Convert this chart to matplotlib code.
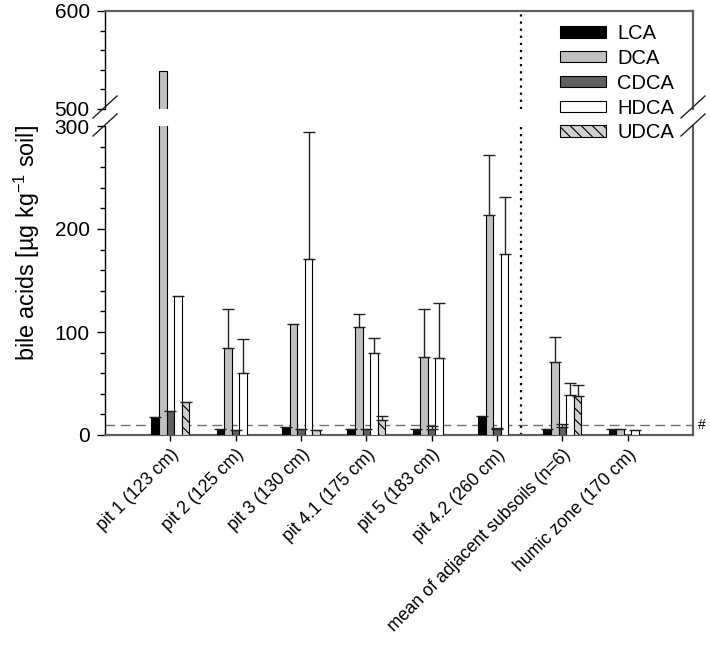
import numpy as np
import matplotlib
matplotlib.use('Agg')
import matplotlib.pyplot as plt
from matplotlib.patches import Patch
from matplotlib.lines import Line2D
from matplotlib.ticker import MultipleLocator

plt.rcParams['font.family'] = ['Liberation Sans', 'DejaVu Sans']
plt.rcParams['mathtext.fontset'] = 'custom'
plt.rcParams['mathtext.rm'] = 'Liberation Sans'
plt.rcParams['hatch.linewidth'] = 0.8

# data (ug/kg soil), nan = not shown
sites = ['pit 1 (123 cm)', 'pit 2 (125 cm)', 'pit 3 (130 cm)', 'pit 4.1 (175 cm)',
         'pit 5 (183 cm)', 'pit 4.2 (260 cm)', 'mean of adjacent subsoils (n=6)',
         'humic zone (170 cm)']
nan = np.nan
LCA = [17.5, 5.5, 8, 5.5, 5.5, 18.5, 5.5, 5.5]
DCA = [538, 84, 108, 105, 76, 214, 70.5, 5.5]
CDCA = [23, 5, 5.5, 5.5, 5.5, 5.5, 8, nan]
HDCA = [135, 60, 170.5, 80, 74.5, 176, 39, 5]
UDCA = [32.5, nan, 5, 14.5, nan, nan, 37.5, nan]

LCA_sd = [nan] * 8
DCA_sd = [nan, 38, nan, 12.5, 46.5, 58, 25, nan]
CDCA_sd = [nan, nan, nan, nan, 3.2, 1, 2.7, nan]
HDCA_sd = [nan, 33, 124, 14.5, 53.5, 55.5, 11.5, nan]
UDCA_sd = [nan, nan, nan, 4, nan, nan, 11, nan]

names = ['LCA', 'DCA', 'CDCA', 'HDCA', 'UDCA']
series = [LCA, DCA, CDCA, HDCA, UDCA]
errors = [LCA_sd, DCA_sd, CDCA_sd, HDCA_sd, UDCA_sd]
colors = ['#000000', '#c0c0c0', '#606060', '#ffffff', '#d0d0d0']
hatches = [None, None, None, None, '\\\\\\']

threshold = 10
divider = 5.37

fig = plt.figure(figsize=(7.1, 6.61), dpi=100)
W, H = 710.0, 661.0
left, right = 105 / W, 693 / W
ax_top = fig.add_axes([left, 1 - 108.5 / H, right - left, 97.5 / H])
ax_bot = fig.add_axes([left, 1 - 435 / H, right - left, 309 / H])

x = np.arange(len(sites))
w = 0.117
for ax in (ax_top, ax_bot):
    for i, (vals, col, hat) in enumerate(zip(series, colors, hatches)):
        ax.bar(x + (i - 2) * w, vals, w, color=col, edgecolor='black',
               linewidth=0.8, hatch=hat, zorder=3)
    ax.axvline(divider, color='black', linestyle=(0, (1, 2.2)), linewidth=1.6, zorder=2)
    ax.set_xlim(-1, 8)
    for s in ['top', 'bottom', 'right']:
        ax.spines[s].set_color('#606060')
        ax.spines[s].set_linewidth(1.6)
    ax.spines['left'].set_linewidth(1)
    ax.yaxis.set_minor_locator(MultipleLocator(20))
    ax.tick_params(axis='y', which='major', length=6, width=1, labelsize=15, pad=5)
    ax.tick_params(axis='y', which='minor', length=3.5, width=1)

for i, (vals, err) in enumerate(zip(series, errors)):
    ax_bot.errorbar(x + (i - 2) * w, vals, yerr=[np.zeros(len(err)), err], fmt='none',
                    ecolor='#222222', elinewidth=1, capsize=4.6, capthick=1, zorder=4)

ax_bot.axhline(threshold, color='#707070', linestyle=(0, (7, 4)), linewidth=1, zorder=1)
ax_bot.text(8.07, threshold, '#', fontsize=10, va='center', ha='left')

ax_top.set_ylim(500, 600)
ax_top.set_yticks([500, 600])
ax_top.spines['bottom'].set_visible(False)
ax_top.set_xticks([])

ax_bot.set_ylim(0, 300)
ax_bot.set_yticks([0, 100, 200, 300])
ax_bot.spines['top'].set_visible(False)
ax_bot.set_xticks(x)
ax_bot.set_xticklabels(sites, rotation=45, ha='right', rotation_mode='anchor', fontsize=12.7)
ax_bot.tick_params(axis='x', length=4, width=1, pad=4)

# break marks
dx, dy = 12 / W, 11 / H
for xb in (left, right):
    for yb in (1 - 107 / H, 1 - 125 / H):
        fig.add_artist(Line2D([xb - dx, xb + dx], [yb - dy, yb + dy], color='#222222',
                              linewidth=1, transform=fig.transFigure))

fig.text(27 / W, 1 - 243 / H, r'bile acids [µg kg$^{-1}$ soil]', rotation=90,
         ha='center', va='center', fontsize=16.8)

handles = [Patch(facecolor=c, edgecolor='black', linewidth=0.8, hatch=h, label=n)
           for n, c, h in zip(names, colors, hatches)]
fig.legend(handles=handles, loc='upper left', bbox_to_anchor=(560 / W, 1 - 24 / H),
           frameon=False, fontsize=14.5, borderpad=0, borderaxespad=0,
           handlelength=2.3, handleheight=0.5, handletextpad=0.55, labelspacing=0.29)

fig.savefig('out.png', dpi=100)
